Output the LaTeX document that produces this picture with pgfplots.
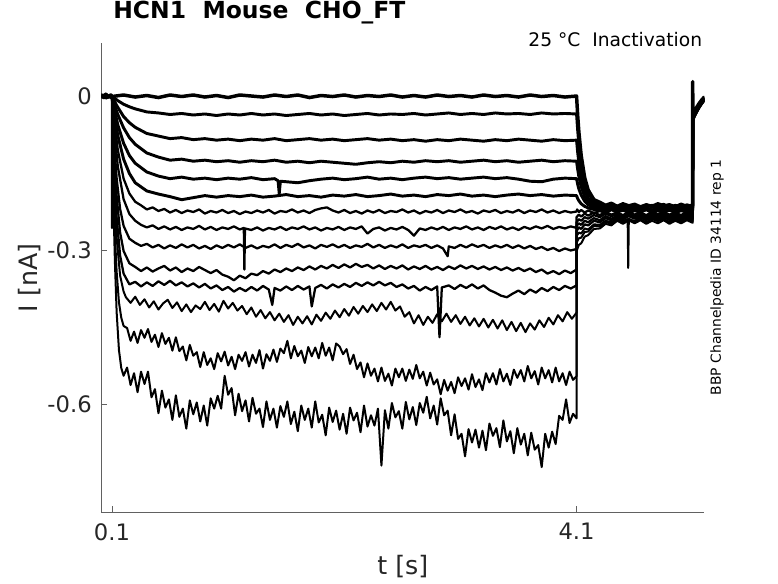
\documentclass[border=0pt]{standalone}
\usepackage{fontspec}
\setmainfont{DejaVu Sans}
\usepackage{pgfplots}
\pgfplotsset{compat=1.18}
\definecolor{axisgray}{rgb}{0.38,0.38,0.38}
\definecolor{txtgray}{rgb}{0.15,0.15,0.15}
\pgfplotsset{
  trA/.style={black, line width=2.2pt, line join=round, line cap=round},
  trB/.style={black, line width=1.7pt, line join=round, line cap=round},
  trC/.style={black, line width=1.5pt, line join=round, line cap=round},
}
\begin{document}
\begin{tikzpicture}
\path[use as bounding box] (-75.98pt,-53.03pt) rectangle (507.53pt,384.23pt);
\begin{axis}[
  at={(0pt,0pt)}, anchor=south west,
  scale only axis, width=452.25pt, height=351.75pt,
  xmin=0.008, xmax=5.2, ymin=-0.811, ymax=0.1027,
  axis lines*=left,
  axis line style={draw=axisgray, line width=0.6pt},
  tick align=inside,
  major tick length=4.5pt,
  tick style={draw=axisgray, line width=0.6pt},
  xtick={0.1,4.1}, xticklabels={0.1,4.1},
  ytick={-0.6,-0.3,0}, yticklabels={-0.6,-0.3,0},
  minor tick num=0,
  ticklabel style={font=\fontsize{17pt}{20pt}\selectfont, text=txtgray},
  xticklabel style={inner sep=0pt, yshift=-8pt},
  yticklabel style={inner sep=0pt, xshift=-7pt},
  xlabel={t [s]}, ylabel={I [nA]},
  label style={font=\fontsize{19pt}{22pt}\selectfont, text=txtgray},
  xlabel style={at={(axis description cs:0.5,-0.1166)}, anchor=center},
  ylabel style={at={(axis description cs:-0.1183,0.5)}, anchor=center},
  title={HCN1\ \ Mouse\ \ CHO\_FT},
  title style={at={(axis description cs:0.0195,1.0348)}, anchor=base west, inner sep=0pt, font=\fontsize{17.6pt}{20pt}\selectfont\bfseries, text=black},
]
% trace 1
\addplot[trA, line width=2.6pt] table[row sep=\\]{
t I\\
0.008 0.002\\ 0.03 -0.003\\ 0.05 0.003\\ 0.07 -0.002\\ 0.09 0.002\\ 0.1 -0.001\\
0.2 0.002\\ 0.3 -0.002\\ 0.4 0.001\\ 0.5 -0.003\\ 0.6 0.002\\ 0.7 -0.001\\ 0.8 0.002\\ 0.9 -0.002\\
1.0 0.001\\ 1.1 -0.003\\ 1.2 0.002\\ 1.3 0.000\\ 1.4 -0.002\\ 1.5 0.002\\ 1.6 -0.001\\ 1.7 0.002\\
1.8 -0.003\\ 1.9 0.001\\ 2.0 -0.001\\ 2.1 0.002\\ 2.2 -0.002\\ 2.3 0.001\\ 2.4 -0.001\\ 2.5 0.002\\
2.6 -0.002\\ 2.7 0.001\\ 2.8 -0.002\\ 2.9 0.002\\ 3.0 -0.001\\ 3.1 0.001\\ 3.2 -0.002\\ 3.3 0.002\\
3.4 -0.001\\ 3.5 0.001\\ 3.6 -0.002\\ 3.7 0.002\\ 3.8 -0.001\\ 3.9 0.001\\ 4.0 -0.002\\ 4.1 0.000\\
4.11 -0.038\\ 4.12 -0.070\\ 4.14 -0.116\\ 4.17 -0.159\\ 4.2 -0.183\\ 4.25 -0.202\\ 4.3 -0.207\\
4.35 -0.213\\ 4.4 -0.209\\ 4.45 -0.215\\ 4.5 -0.210\\ 4.55 -0.214\\ 4.6 -0.211\\ 4.65 -0.216\\
4.7 -0.212\\ 4.75 -0.215\\ 4.8 -0.210\\ 4.85 -0.214\\ 4.9 -0.212\\ 4.95 -0.216\\ 5.0 -0.211\\
5.05 -0.215\\ 5.1 -0.213\\ 5.1 0.028\\ 5.102 -0.036\\ 5.12 -0.028\\ 5.14 -0.020\\ 5.16 -0.013\\
5.18 -0.007\\ 5.2 -0.002\\
};
% trace 2
\addplot[trA] table[row sep=\\]{
t I\\
0.008 -0.003\\ 0.03 0.002\\ 0.05 -0.004\\ 0.07 0.001\\ 0.09 -0.003\\ 0.1 0\\
0.12 -0.004\\ 0.15 -0.009\\ 0.2 -0.016\\ 0.25 -0.021\\ 0.3 -0.025\\ 0.4 -0.031\\ 0.5 -0.033\\
0.6 -0.036\\ 0.7 -0.034\\ 0.8 -0.037\\ 0.9 -0.035\\ 1.0 -0.038\\ 1.1 -0.035\\ 1.2 -0.037\\
1.3 -0.034\\ 1.4 -0.037\\ 1.5 -0.035\\ 1.6 -0.038\\ 1.7 -0.036\\ 1.8 -0.034\\ 1.9 -0.037\\
2.0 -0.035\\ 2.1 -0.038\\ 2.2 -0.036\\ 2.3 -0.034\\ 2.4 -0.037\\ 2.5 -0.035\\ 2.6 -0.036\\
2.7 -0.034\\ 2.8 -0.037\\ 2.9 -0.035\\ 3.0 -0.033\\ 3.1 -0.036\\ 3.2 -0.034\\ 3.3 -0.036\\
3.4 -0.033\\ 3.5 -0.035\\ 3.6 -0.034\\ 3.7 -0.036\\ 3.8 -0.033\\ 3.9 -0.035\\ 4.0 -0.034\\
4.1 -0.035\\
4.11 -0.067\\ 4.12 -0.094\\ 4.14 -0.133\\ 4.17 -0.170\\ 4.2 -0.190\\ 4.25 -0.205\\ 4.3 -0.210\\
4.35 -0.216\\ 4.4 -0.211\\ 4.45 -0.217\\ 4.5 -0.212\\ 4.55 -0.216\\ 4.6 -0.213\\ 4.65 -0.218\\
4.7 -0.212\\ 4.75 -0.216\\ 4.8 -0.214\\ 4.85 -0.211\\ 4.9 -0.217\\ 4.95 -0.213\\ 5.0 -0.216\\
5.05 -0.212\\ 5.1 -0.215\\ 5.102 -0.038\\ 5.12 -0.030\\ 5.14 -0.022\\ 5.16 -0.015\\ 5.18 -0.009\\
5.2 -0.004\\
};
% trace 3
\addplot[trA] table[row sep=\\]{
t I\\
0.008 0.003\\ 0.025 -0.002\\ 0.045 0.004\\ 0.065 -0.003\\ 0.085 0.002\\ 0.1 0\\
0.12 -0.010\\ 0.15 -0.022\\ 0.2 -0.040\\ 0.25 -0.052\\ 0.3 -0.061\\ 0.4 -0.073\\ 0.5 -0.078\\
0.6 -0.083\\ 0.7 -0.081\\ 0.8 -0.085\\ 0.9 -0.083\\ 1.0 -0.086\\ 1.1 -0.084\\ 1.2 -0.087\\
1.3 -0.084\\ 1.4 -0.086\\ 1.5 -0.083\\ 1.6 -0.087\\ 1.7 -0.085\\ 1.8 -0.083\\ 1.9 -0.086\\
2.0 -0.084\\ 2.1 -0.087\\ 2.2 -0.085\\ 2.3 -0.083\\ 2.4 -0.086\\ 2.5 -0.084\\ 2.6 -0.087\\
2.7 -0.085\\ 2.8 -0.088\\ 2.9 -0.085\\ 3.0 -0.087\\ 3.1 -0.084\\ 3.2 -0.086\\ 3.3 -0.088\\
3.4 -0.085\\ 3.5 -0.087\\ 3.6 -0.084\\ 3.7 -0.086\\ 3.8 -0.088\\ 3.9 -0.085\\ 4.0 -0.087\\
4.1 -0.086\\
4.11 -0.110\\ 4.12 -0.129\\ 4.14 -0.158\\ 4.17 -0.184\\ 4.2 -0.199\\ 4.25 -0.209\\ 4.3 -0.213\\
4.35 -0.218\\ 4.4 -0.214\\ 4.45 -0.219\\ 4.5 -0.215\\ 4.55 -0.218\\ 4.6 -0.214\\ 4.65 -0.219\\
4.7 -0.216\\ 4.75 -0.213\\ 4.8 -0.218\\ 4.85 -0.215\\ 4.9 -0.219\\ 4.95 -0.214\\ 5.0 -0.217\\
5.05 -0.215\\ 5.1 -0.218\\ 5.102 -0.040\\ 5.12 -0.031\\ 5.14 -0.023\\ 5.16 -0.016\\ 5.18 -0.010\\
5.2 -0.005\\
};
% trace 4
\addplot[trA] table[row sep=\\]{
t I\\
0.1 0\\ 0.12 -0.017\\ 0.15 -0.036\\ 0.2 -0.062\\ 0.25 -0.081\\ 0.3 -0.094\\ 0.4 -0.111\\ 0.5 -0.119\\
0.6 -0.125\\ 0.7 -0.123\\ 0.8 -0.127\\ 0.9 -0.125\\ 1.0 -0.128\\ 1.1 -0.126\\ 1.2 -0.129\\
1.3 -0.126\\ 1.4 -0.128\\ 1.5 -0.125\\ 1.6 -0.129\\ 1.7 -0.127\\ 1.8 -0.130\\ 1.9 -0.127\\
2.0 -0.129\\ 2.1 -0.131\\ 2.2 -0.133\\ 2.3 -0.130\\ 2.4 -0.128\\ 2.5 -0.130\\ 2.6 -0.127\\
2.7 -0.129\\ 2.8 -0.126\\ 2.9 -0.128\\ 3.0 -0.126\\ 3.1 -0.129\\ 3.2 -0.127\\ 3.3 -0.125\\
3.4 -0.128\\ 3.5 -0.126\\ 3.6 -0.129\\ 3.7 -0.127\\ 3.8 -0.125\\ 3.9 -0.128\\ 4.0 -0.126\\
4.1 -0.127\\
4.11 -0.143\\ 4.12 -0.157\\ 4.14 -0.177\\ 4.17 -0.196\\ 4.2 -0.206\\ 4.25 -0.213\\ 4.3 -0.216\\
4.35 -0.220\\ 4.4 -0.216\\ 4.45 -0.221\\ 4.5 -0.217\\ 4.55 -0.220\\ 4.6 -0.216\\ 4.65 -0.221\\
4.7 -0.218\\ 4.75 -0.222\\ 4.8 -0.217\\ 4.85 -0.220\\ 4.9 -0.216\\ 4.95 -0.221\\ 5.0 -0.218\\
5.05 -0.220\\ 5.1 -0.217\\ 5.102 -0.041\\ 5.12 -0.032\\ 5.14 -0.024\\ 5.16 -0.017\\ 5.18 -0.011\\
5.2 -0.005\\
};
% trace 5
\addplot[trA] table[row sep=\\]{
t I\\
0.1 0\\ 0.12 -0.025\\ 0.15 -0.056\\ 0.2 -0.092\\ 0.25 -0.116\\ 0.3 -0.131\\ 0.4 -0.148\\ 0.5 -0.156\\
0.6 -0.161\\ 0.7 -0.158\\ 0.8 -0.162\\ 0.9 -0.160\\ 1.0 -0.163\\ 1.1 -0.160\\ 1.2 -0.162\\
1.3 -0.159\\ 1.4 -0.163\\ 1.5 -0.161\\ 1.53 -0.165\\ 1.54 -0.190\\ 1.55 -0.166\\ 1.6 -0.167\\
1.7 -0.169\\ 1.8 -0.165\\ 1.9 -0.162\\ 2.0 -0.160\\ 2.1 -0.163\\ 2.2 -0.161\\ 2.3 -0.158\\
2.4 -0.162\\ 2.5 -0.160\\ 2.6 -0.163\\ 2.7 -0.160\\ 2.8 -0.158\\ 2.9 -0.161\\ 3.0 -0.159\\
3.1 -0.162\\ 3.2 -0.160\\ 3.3 -0.158\\ 3.4 -0.161\\ 3.5 -0.159\\ 3.6 -0.162\\ 3.7 -0.166\\
3.8 -0.167\\ 3.9 -0.162\\ 4.0 -0.160\\ 4.1 -0.161\\
4.11 -0.172\\ 4.12 -0.181\\ 4.14 -0.193\\ 4.17 -0.205\\ 4.2 -0.212\\ 4.25 -0.217\\ 4.3 -0.219\\
4.35 -0.223\\ 4.4 -0.218\\ 4.45 -0.222\\ 4.5 -0.219\\ 4.55 -0.224\\ 4.6 -0.220\\ 4.65 -0.223\\
4.7 -0.218\\ 4.75 -0.222\\ 4.8 -0.220\\ 4.85 -0.224\\ 4.9 -0.219\\ 4.95 -0.222\\ 5.0 -0.220\\
5.05 -0.223\\ 5.1 -0.221\\ 5.102 -0.041\\ 5.12 -0.033\\ 5.14 -0.025\\ 5.16 -0.018\\ 5.18 -0.011\\
5.2 -0.006\\
};
% trace 6
\addplot[trA] table[row sep=\\]{
t I\\
0.1 0\\ 0.12 -0.035\\ 0.15 -0.077\\ 0.2 -0.123\\ 0.25 -0.151\\ 0.3 -0.169\\ 0.4 -0.185\\ 0.5 -0.191\\
0.6 -0.196\\ 0.7 -0.202\\ 0.8 -0.198\\ 0.9 -0.194\\ 1.0 -0.197\\ 1.1 -0.194\\ 1.2 -0.196\\
1.3 -0.193\\ 1.4 -0.197\\ 1.5 -0.195\\ 1.6 -0.192\\ 1.7 -0.196\\ 1.8 -0.194\\ 1.9 -0.197\\
2.0 -0.193\\ 2.1 -0.195\\ 2.2 -0.192\\ 2.3 -0.196\\ 2.4 -0.194\\ 2.5 -0.191\\ 2.6 -0.195\\
2.7 -0.193\\ 2.8 -0.196\\ 2.9 -0.192\\ 3.0 -0.194\\ 3.1 -0.191\\ 3.2 -0.195\\ 3.3 -0.193\\
3.4 -0.196\\ 3.5 -0.193\\ 3.6 -0.191\\ 3.7 -0.194\\ 3.8 -0.192\\ 3.9 -0.195\\ 4.0 -0.193\\
4.1 -0.194\\
4.11 -0.200\\ 4.12 -0.204\\ 4.14 -0.210\\ 4.17 -0.215\\ 4.2 -0.218\\ 4.25 -0.221\\ 4.3 -0.222\\
4.35 -0.226\\ 4.4 -0.221\\ 4.45 -0.225\\ 4.5 -0.220\\ 4.55 -0.224\\ 4.6 -0.222\\ 4.65 -0.226\\
4.7 -0.221\\ 4.75 -0.224\\ 4.8 -0.222\\ 4.85 -0.226\\ 4.9 -0.221\\ 4.95 -0.224\\ 5.0 -0.222\\
5.05 -0.225\\ 5.1 -0.223\\ 5.102 -0.042\\ 5.12 -0.034\\ 5.14 -0.026\\ 5.16 -0.018\\ 5.18 -0.012\\
5.2 -0.006\\
};
% trace 7
\addplot[trB] table[row sep=\\]{
t I\\
0.1 0\\ 0.1005 -0.257\\ 0.101 -0.005\\ 0.12 -0.050\\ 0.15 -0.105\\ 0.2 -0.161\\ 0.25 -0.190\\
0.3 -0.206\\ 0.35 -0.213\\ 0.4 -0.221\\ 0.45 -0.217\\ 0.5 -0.224\\ 0.55 -0.220\\ 0.6 -0.227\\
0.65 -0.222\\ 0.7 -0.228\\ 0.75 -0.223\\ 0.8 -0.226\\ 0.85 -0.221\\ 0.9 -0.229\\ 0.95 -0.224\\
1.0 -0.227\\ 1.05 -0.222\\ 1.1 -0.228\\ 1.15 -0.224\\ 1.2 -0.230\\ 1.25 -0.225\\ 1.3 -0.228\\
1.35 -0.223\\ 1.4 -0.227\\ 1.45 -0.222\\ 1.5 -0.229\\ 1.55 -0.224\\ 1.6 -0.226\\ 1.65 -0.221\\
1.7 -0.227\\ 1.75 -0.223\\ 1.8 -0.228\\ 1.85 -0.222\\ 1.9 -0.219\\ 1.95 -0.217\\ 2.0 -0.223\\
2.05 -0.227\\ 2.1 -0.222\\ 2.15 -0.228\\ 2.2 -0.224\\ 2.25 -0.229\\ 2.3 -0.223\\ 2.35 -0.227\\
2.4 -0.222\\ 2.45 -0.228\\ 2.5 -0.224\\ 2.55 -0.226\\ 2.6 -0.221\\ 2.65 -0.227\\ 2.7 -0.223\\
2.75 -0.229\\ 2.8 -0.224\\ 2.85 -0.227\\ 2.9 -0.222\\ 2.95 -0.228\\ 3.0 -0.223\\ 3.05 -0.226\\
3.1 -0.221\\ 3.15 -0.227\\ 3.2 -0.224\\ 3.25 -0.229\\ 3.3 -0.223\\ 3.35 -0.226\\ 3.4 -0.222\\
3.45 -0.228\\ 3.5 -0.224\\ 3.55 -0.227\\ 3.6 -0.222\\ 3.65 -0.228\\ 3.7 -0.223\\ 3.75 -0.226\\
3.8 -0.221\\ 3.85 -0.227\\ 3.9 -0.223\\ 3.95 -0.228\\ 4.0 -0.224\\ 4.05 -0.227\\ 4.1 -0.225\\
4.105 -0.221\\ 4.12 -0.226\\ 4.14 -0.222\\ 4.17 -0.227\\ 4.2 -0.223\\ 4.25 -0.228\\ 4.3 -0.224\\
4.35 -0.228\\ 4.4 -0.222\\ 4.45 -0.227\\ 4.5 -0.223\\ 4.55 -0.228\\ 4.6 -0.224\\ 4.65 -0.227\\
4.7 -0.222\\ 4.75 -0.228\\ 4.8 -0.224\\ 4.85 -0.227\\ 4.9 -0.223\\ 4.95 -0.228\\ 5.0 -0.224\\
5.05 -0.227\\ 5.1 -0.225\\ 5.102 -0.043\\ 5.12 -0.035\\ 5.14 -0.026\\ 5.16 -0.019\\ 5.18 -0.012\\
5.2 -0.007\\
};
% trace 8
\addplot[trB] table[row sep=\\]{
t I\\
0.1 0\\ 0.12 -0.067\\ 0.15 -0.137\\ 0.2 -0.201\\ 0.25 -0.230\\ 0.3 -0.243\\ 0.35 -0.251\\
0.4 -0.256\\ 0.45 -0.252\\ 0.5 -0.259\\ 0.55 -0.254\\ 0.6 -0.260\\ 0.65 -0.255\\ 0.7 -0.261\\
0.75 -0.256\\ 0.8 -0.259\\ 0.85 -0.253\\ 0.9 -0.260\\ 0.95 -0.255\\ 1.0 -0.261\\ 1.05 -0.256\\
1.1 -0.259\\ 1.15 -0.254\\ 1.2 -0.260\\ 1.235 -0.257\\ 1.24 -0.338\\ 1.245 -0.258\\ 1.3 -0.261\\
1.35 -0.256\\ 1.4 -0.262\\ 1.45 -0.257\\ 1.5 -0.260\\ 1.55 -0.255\\ 1.6 -0.261\\ 1.65 -0.256\\
1.7 -0.259\\ 1.75 -0.254\\ 1.8 -0.260\\ 1.85 -0.256\\ 1.9 -0.262\\ 1.95 -0.257\\ 2.0 -0.260\\
2.05 -0.255\\ 2.1 -0.261\\ 2.15 -0.256\\ 2.2 -0.259\\ 2.25 -0.254\\ 2.3 -0.268\\ 2.35 -0.259\\
2.4 -0.256\\ 2.45 -0.262\\ 2.5 -0.257\\ 2.55 -0.260\\ 2.6 -0.255\\ 2.65 -0.261\\ 2.7 -0.272\\
2.75 -0.258\\ 2.8 -0.261\\ 2.85 -0.256\\ 2.9 -0.260\\ 2.95 -0.255\\ 3.0 -0.261\\ 3.05 -0.256\\
3.1 -0.259\\ 3.15 -0.254\\ 3.2 -0.260\\ 3.25 -0.256\\ 3.3 -0.261\\ 3.35 -0.255\\ 3.4 -0.259\\
3.45 -0.254\\ 3.5 -0.260\\ 3.55 -0.256\\ 3.6 -0.261\\ 3.65 -0.255\\ 3.7 -0.259\\ 3.75 -0.254\\
3.8 -0.258\\ 3.85 -0.253\\ 3.9 -0.259\\ 3.95 -0.255\\ 4.0 -0.258\\ 4.05 -0.254\\ 4.1 -0.257\\
4.1 -0.236\\ 4.12 -0.231\\ 4.14 -0.235\\ 4.17 -0.229\\ 4.2 -0.233\\ 4.25 -0.227\\ 4.3 -0.232\\
4.35 -0.226\\ 4.4 -0.231\\ 4.45 -0.227\\ 4.5 -0.232\\ 4.55 -0.226\\ 4.6 -0.231\\ 4.65 -0.227\\
4.7 -0.232\\ 4.75 -0.226\\ 4.8 -0.230\\ 4.85 -0.226\\ 4.9 -0.231\\ 4.95 -0.227\\ 5.0 -0.232\\
5.05 -0.226\\ 5.1 -0.229\\ 5.102 -0.043\\ 5.12 -0.035\\ 5.14 -0.027\\ 5.16 -0.019\\ 5.18 -0.013\\
5.2 -0.007\\
};
% trace 9
\addplot[trB] table[row sep=\\]{
t I\\
0.1 0\\ 0.11 -0.053\\ 0.12 -0.097\\ 0.14 -0.160\\ 0.17 -0.220\\ 0.2 -0.253\\ 0.25 -0.278\\
0.3 -0.286\\ 0.35 -0.292\\ 0.4 -0.288\\ 0.45 -0.295\\ 0.5 -0.290\\ 0.55 -0.297\\ 0.6 -0.291\\
0.65 -0.296\\ 0.7 -0.289\\ 0.75 -0.295\\ 0.8 -0.290\\ 0.85 -0.297\\ 0.9 -0.292\\ 0.95 -0.298\\
1.0 -0.291\\ 1.05 -0.296\\ 1.1 -0.290\\ 1.15 -0.295\\ 1.2 -0.289\\ 1.25 -0.296\\ 1.3 -0.291\\
1.35 -0.297\\ 1.4 -0.292\\ 1.45 -0.295\\ 1.5 -0.289\\ 1.55 -0.296\\ 1.6 -0.290\\ 1.65 -0.294\\
1.7 -0.288\\ 1.75 -0.295\\ 1.8 -0.291\\ 1.85 -0.297\\ 1.9 -0.290\\ 1.95 -0.294\\ 2.0 -0.289\\
2.05 -0.295\\ 2.1 -0.290\\ 2.15 -0.296\\ 2.2 -0.291\\ 2.25 -0.294\\ 2.3 -0.288\\ 2.35 -0.295\\
2.4 -0.290\\ 2.45 -0.296\\ 2.5 -0.291\\ 2.55 -0.295\\ 2.6 -0.289\\ 2.65 -0.296\\ 2.7 -0.291\\
2.75 -0.294\\ 2.8 -0.290\\ 2.85 -0.296\\ 2.9 -0.291\\ 2.95 -0.297\\ 2.99 -0.312\\ 3.0 -0.293\\
3.05 -0.296\\ 3.1 -0.290\\ 3.15 -0.295\\ 3.2 -0.289\\ 3.25 -0.294\\ 3.3 -0.290\\ 3.35 -0.296\\
3.4 -0.291\\ 3.45 -0.295\\ 3.5 -0.290\\ 3.55 -0.296\\ 3.6 -0.291\\ 3.65 -0.297\\ 3.7 -0.292\\
3.75 -0.298\\ 3.8 -0.294\\ 3.85 -0.300\\ 3.9 -0.296\\ 3.95 -0.302\\ 4.0 -0.297\\ 4.05 -0.301\\
4.1 -0.298\\
4.1 -0.246\\ 4.12 -0.240\\ 4.14 -0.243\\ 4.17 -0.236\\ 4.2 -0.239\\ 4.25 -0.232\\ 4.3 -0.236\\
4.35 -0.229\\ 4.4 -0.234\\ 4.45 -0.230\\ 4.5 -0.235\\ 4.55 -0.229\\ 4.6 -0.234\\ 4.65 -0.230\\
4.7 -0.235\\ 4.75 -0.229\\ 4.8 -0.233\\ 4.85 -0.228\\ 4.9 -0.234\\ 4.95 -0.230\\ 5.0 -0.235\\
5.05 -0.229\\ 5.1 -0.232\\ 5.102 -0.044\\ 5.12 -0.036\\ 5.14 -0.027\\ 5.16 -0.020\\ 5.18 -0.013\\
5.2 -0.007\\
};
% trace 10
\addplot[trB] table[row sep=\\]{
t I\\
0.1 0\\ 0.11 -0.067\\ 0.12 -0.120\\ 0.14 -0.195\\ 0.17 -0.266\\ 0.2 -0.302\\ 0.25 -0.326\\
0.3 -0.333\\ 0.35 -0.341\\ 0.4 -0.334\\ 0.45 -0.342\\ 0.5 -0.336\\ 0.55 -0.331\\ 0.6 -0.340\\
0.65 -0.334\\ 0.7 -0.343\\ 0.75 -0.336\\ 0.8 -0.341\\ 0.85 -0.333\\ 0.9 -0.339\\ 0.95 -0.345\\
1.0 -0.339\\ 1.05 -0.348\\ 1.1 -0.352\\ 1.15 -0.359\\ 1.2 -0.350\\ 1.25 -0.355\\ 1.3 -0.346\\
1.35 -0.349\\ 1.4 -0.341\\ 1.45 -0.346\\ 1.5 -0.338\\ 1.55 -0.343\\ 1.6 -0.336\\ 1.65 -0.341\\
1.7 -0.334\\ 1.75 -0.339\\ 1.8 -0.332\\ 1.85 -0.338\\ 1.9 -0.331\\ 1.95 -0.336\\ 2.0 -0.329\\
2.05 -0.335\\ 2.1 -0.328\\ 2.15 -0.334\\ 2.2 -0.327\\ 2.25 -0.333\\ 2.3 -0.329\\ 2.35 -0.336\\
2.4 -0.330\\ 2.45 -0.337\\ 2.5 -0.331\\ 2.55 -0.336\\ 2.6 -0.330\\ 2.65 -0.338\\ 2.7 -0.332\\
2.75 -0.337\\ 2.8 -0.331\\ 2.85 -0.338\\ 2.9 -0.333\\ 2.95 -0.339\\ 3.0 -0.332\\ 3.05 -0.337\\
3.1 -0.330\\ 3.15 -0.336\\ 3.2 -0.331\\ 3.25 -0.337\\ 3.3 -0.332\\ 3.35 -0.338\\ 3.4 -0.333\\
3.45 -0.339\\ 3.5 -0.334\\ 3.55 -0.340\\ 3.6 -0.335\\ 3.65 -0.341\\ 3.7 -0.336\\ 3.75 -0.343\\
3.8 -0.338\\ 3.85 -0.346\\ 3.9 -0.341\\ 3.95 -0.347\\ 4.0 -0.340\\ 4.05 -0.345\\ 4.1 -0.338\\
4.1 -0.253\\ 4.12 -0.248\\ 4.14 -0.251\\ 4.17 -0.243\\ 4.2 -0.246\\ 4.25 -0.238\\ 4.3 -0.242\\
4.35 -0.234\\ 4.4 -0.239\\ 4.45 -0.233\\ 4.5 -0.238\\ 4.55 -0.232\\ 4.6 -0.237\\ 4.65 -0.231\\
4.7 -0.237\\ 4.75 -0.232\\ 4.8 -0.236\\ 4.85 -0.231\\ 4.9 -0.237\\ 4.95 -0.232\\ 5.0 -0.236\\
5.05 -0.231\\ 5.1 -0.235\\ 5.102 -0.045\\ 5.12 -0.036\\ 5.14 -0.028\\ 5.16 -0.020\\ 5.18 -0.013\\
5.2 -0.008\\
};
% trace 11
\addplot[trB] table[row sep=\\]{
t I\\
0.1 0\\ 0.11 -0.083\\ 0.12 -0.147\\ 0.14 -0.237\\ 0.17 -0.311\\ 0.2 -0.346\\ 0.25 -0.367\\
0.3 -0.362\\ 0.35 -0.371\\ 0.4 -0.363\\ 0.45 -0.370\\ 0.5 -0.361\\ 0.55 -0.368\\ 0.6 -0.360\\
0.65 -0.369\\ 0.7 -0.363\\ 0.75 -0.371\\ 0.8 -0.365\\ 0.85 -0.373\\ 0.9 -0.366\\ 0.95 -0.375\\
1.0 -0.369\\ 1.05 -0.378\\ 1.1 -0.372\\ 1.15 -0.381\\ 1.2 -0.374\\ 1.25 -0.380\\ 1.3 -0.372\\
1.35 -0.379\\ 1.4 -0.370\\ 1.45 -0.377\\ 1.48 -0.407\\ 1.5 -0.374\\ 1.55 -0.379\\ 1.6 -0.371\\
1.65 -0.378\\ 1.7 -0.370\\ 1.75 -0.377\\ 1.8 -0.371\\ 1.82 -0.410\\ 1.85 -0.374\\ 1.9 -0.368\\
1.95 -0.375\\ 2.0 -0.367\\ 2.05 -0.373\\ 2.1 -0.366\\ 2.15 -0.372\\ 2.2 -0.364\\ 2.25 -0.370\\
2.3 -0.363\\ 2.35 -0.369\\ 2.4 -0.362\\ 2.45 -0.369\\ 2.5 -0.364\\ 2.55 -0.372\\ 2.6 -0.367\\
2.65 -0.375\\ 2.7 -0.370\\ 2.75 -0.379\\ 2.8 -0.372\\ 2.85 -0.378\\ 2.9 -0.371\\ 2.92 -0.470\\
2.94 -0.373\\ 3.0 -0.369\\ 3.05 -0.376\\ 3.1 -0.368\\ 3.15 -0.374\\ 3.2 -0.367\\ 3.25 -0.375\\
3.3 -0.369\\ 3.35 -0.378\\ 3.4 -0.383\\ 3.45 -0.389\\ 3.5 -0.392\\ 3.55 -0.385\\ 3.6 -0.379\\
3.65 -0.386\\ 3.7 -0.377\\ 3.75 -0.383\\ 3.8 -0.374\\ 3.85 -0.380\\ 3.9 -0.372\\ 3.95 -0.378\\
4.0 -0.370\\ 4.05 -0.375\\ 4.1 -0.369\\
4.1 -0.263\\ 4.12 -0.256\\ 4.14 -0.259\\ 4.17 -0.250\\ 4.2 -0.252\\ 4.25 -0.243\\ 4.3 -0.246\\
4.35 -0.238\\ 4.4 -0.242\\ 4.45 -0.235\\ 4.5 -0.240\\ 4.55 -0.234\\ 4.6 -0.239\\ 4.65 -0.233\\
4.7 -0.239\\ 4.75 -0.234\\ 4.8 -0.238\\ 4.85 -0.233\\ 4.9 -0.239\\ 4.95 -0.235\\ 5.0 -0.239\\
5.05 -0.234\\ 5.1 -0.238\\ 5.102 -0.046\\ 5.12 -0.037\\ 5.14 -0.028\\ 5.16 -0.021\\ 5.18 -0.014\\
5.2 -0.008\\
};
% trace 12
\addplot[trC] table[row sep=\\]{
t I\\
0.1 0\\ 0.11 -0.101\\ 0.12 -0.177\\ 0.14 -0.276\\ 0.17 -0.350\\ 0.2 -0.381\\ 0.22 -0.392\\
0.26 -0.403\\ 0.30 -0.391\\ 0.34 -0.407\\ 0.38 -0.396\\ 0.42 -0.412\\ 0.46 -0.400\\ 0.50 -0.416\\
0.54 -0.404\\ 0.58 -0.397\\ 0.62 -0.413\\ 0.66 -0.402\\ 0.70 -0.419\\ 0.74 -0.406\\ 0.78 -0.421\\
0.82 -0.408\\ 0.86 -0.415\\ 0.90 -0.401\\ 0.94 -0.417\\ 0.98 -0.405\\ 1.02 -0.420\\ 1.06 -0.399\\
1.10 -0.414\\ 1.14 -0.403\\ 1.18 -0.418\\ 1.22 -0.409\\ 1.26 -0.425\\ 1.30 -0.412\\ 1.34 -0.430\\
1.38 -0.417\\ 1.42 -0.433\\ 1.46 -0.421\\ 1.50 -0.437\\ 1.54 -0.424\\ 1.58 -0.440\\ 1.62 -0.427\\
1.66 -0.446\\ 1.70 -0.430\\ 1.74 -0.443\\ 1.78 -0.429\\ 1.82 -0.445\\ 1.86 -0.426\\ 1.90 -0.438\\
1.94 -0.422\\ 1.98 -0.434\\ 2.02 -0.418\\ 2.06 -0.431\\ 2.10 -0.415\\ 2.14 -0.428\\ 2.18 -0.411\\
2.22 -0.424\\ 2.26 -0.409\\ 2.30 -0.421\\ 2.34 -0.406\\ 2.38 -0.419\\ 2.42 -0.403\\ 2.46 -0.416\\
2.50 -0.401\\ 2.54 -0.418\\ 2.58 -0.410\\ 2.62 -0.430\\ 2.66 -0.421\\ 2.70 -0.443\\ 2.74 -0.427\\
2.78 -0.446\\ 2.82 -0.430\\ 2.86 -0.442\\ 2.90 -0.425\\ 2.94 -0.439\\ 2.98 -0.424\\ 3.02 -0.440\\
3.06 -0.427\\ 3.10 -0.444\\ 3.14 -0.430\\ 3.18 -0.447\\ 3.22 -0.433\\ 3.26 -0.449\\ 3.30 -0.434\\
3.34 -0.451\\ 3.38 -0.436\\ 3.42 -0.453\\ 3.46 -0.437\\ 3.50 -0.456\\ 3.54 -0.440\\ 3.58 -0.458\\
3.62 -0.442\\ 3.66 -0.460\\ 3.70 -0.443\\ 3.74 -0.455\\ 3.78 -0.437\\ 3.82 -0.450\\ 3.86 -0.432\\
3.90 -0.445\\ 3.94 -0.427\\ 3.98 -0.439\\ 4.02 -0.421\\ 4.06 -0.434\\ 4.10 -0.422\\
4.1 -0.273\\ 4.12 -0.266\\ 4.14 -0.268\\ 4.17 -0.258\\ 4.2 -0.260\\ 4.25 -0.250\\ 4.3 -0.251\\
4.35 -0.243\\ 4.4 -0.246\\ 4.45 -0.238\\ 4.5 -0.243\\ 4.54 -0.240\\ 4.545 -0.335\\ 4.55 -0.241\\
4.6 -0.243\\ 4.65 -0.237\\ 4.7 -0.242\\ 4.75 -0.236\\ 4.8 -0.241\\ 4.85 -0.236\\ 4.9 -0.242\\
4.95 -0.237\\ 5.0 -0.242\\ 5.05 -0.237\\ 5.1 -0.241\\ 5.102 -0.047\\ 5.12 -0.038\\ 5.14 -0.029\\
5.16 -0.021\\ 5.18 -0.014\\ 5.2 -0.009\\
};
% trace 13
\addplot[trC] table[row sep=\\]{
t I\\
0.1 0\\ 0.105 -0.072\\ 0.11 -0.132\\ 0.12 -0.226\\ 0.13 -0.294\\ 0.14 -0.342\\ 0.16 -0.402\\
0.18 -0.432\\ 0.20 -0.448\\ 0.23 -0.452\\ 0.26 -0.477\\ 0.29 -0.459\\ 0.32 -0.481\\ 0.35 -0.456\\
0.38 -0.471\\ 0.41 -0.454\\ 0.44 -0.479\\ 0.47 -0.465\\ 0.50 -0.489\\ 0.53 -0.462\\ 0.56 -0.483\\
0.59 -0.471\\ 0.62 -0.496\\ 0.65 -0.470\\ 0.68 -0.497\\ 0.71 -0.488\\ 0.74 -0.515\\ 0.77 -0.485\\
0.80 -0.506\\ 0.83 -0.499\\ 0.86 -0.528\\ 0.89 -0.499\\ 0.92 -0.524\\ 0.95 -0.511\\ 0.98 -0.532\\
1.01 -0.501\\ 1.04 -0.517\\ 1.07 -0.498\\ 1.10 -0.525\\ 1.13 -0.508\\ 1.16 -0.532\\ 1.19 -0.504\\
1.22 -0.516\\ 1.25 -0.499\\ 1.28 -0.527\\ 1.31 -0.504\\ 1.34 -0.520\\ 1.37 -0.495\\ 1.40 -0.531\\
1.43 -0.503\\ 1.46 -0.516\\ 1.49 -0.494\\ 1.52 -0.518\\ 1.55 -0.492\\ 1.58 -0.501\\ 1.61 -0.477\\
1.64 -0.511\\ 1.67 -0.487\\ 1.70 -0.507\\ 1.73 -0.496\\ 1.76 -0.520\\ 1.79 -0.489\\ 1.82 -0.507\\
1.85 -0.490\\ 1.88 -0.511\\ 1.91 -0.481\\ 1.94 -0.506\\ 1.97 -0.490\\ 2.00 -0.515\\ 2.03 -0.482\\
2.06 -0.488\\ 2.09 -0.503\\ 2.12 -0.493\\ 2.15 -0.522\\ 2.18 -0.504\\ 2.21 -0.532\\ 2.24 -0.519\\
2.27 -0.548\\ 2.30 -0.521\\ 2.33 -0.545\\ 2.36 -0.531\\ 2.39 -0.556\\ 2.42 -0.529\\ 2.45 -0.555\\
2.48 -0.541\\ 2.51 -0.564\\ 2.54 -0.531\\ 2.57 -0.548\\ 2.60 -0.531\\ 2.63 -0.555\\ 2.66 -0.533\\
2.69 -0.551\\ 2.72 -0.524\\ 2.75 -0.550\\ 2.78 -0.537\\ 2.81 -0.564\\ 2.84 -0.539\\ 2.87 -0.562\\
2.90 -0.552\\ 2.93 -0.581\\ 2.96 -0.553\\ 2.99 -0.574\\ 3.02 -0.557\\ 3.05 -0.579\\ 3.08 -0.548\\
3.11 -0.565\\ 3.14 -0.550\\ 3.17 -0.572\\ 3.20 -0.542\\ 3.23 -0.567\\ 3.26 -0.552\\ 3.29 -0.573\\
3.32 -0.540\\ 3.35 -0.558\\ 3.38 -0.540\\ 3.41 -0.562\\ 3.44 -0.532\\ 3.47 -0.556\\ 3.50 -0.541\\
3.53 -0.563\\ 3.56 -0.533\\ 3.59 -0.549\\ 3.62 -0.534\\ 3.65 -0.556\\ 3.68 -0.526\\ 3.71 -0.550\\
3.74 -0.536\\ 3.77 -0.562\\ 3.80 -0.529\\ 3.83 -0.550\\ 3.86 -0.534\\ 3.89 -0.558\\ 3.92 -0.529\\
3.95 -0.556\\ 3.98 -0.540\\ 4.01 -0.563\\ 4.04 -0.537\\ 4.07 -0.553\\ 4.10 -0.546\\
4.1 -0.286\\ 4.12 -0.277\\ 4.14 -0.276\\ 4.17 -0.265\\ 4.2 -0.264\\ 4.25 -0.253\\ 4.3 -0.254\\
4.35 -0.245\\ 4.4 -0.249\\ 4.45 -0.240\\ 4.5 -0.246\\ 4.55 -0.239\\ 4.6 -0.245\\ 4.65 -0.240\\
4.7 -0.246\\ 4.75 -0.239\\ 4.8 -0.244\\ 4.85 -0.239\\ 4.9 -0.246\\ 4.95 -0.240\\ 5.0 -0.245\\
5.05 -0.240\\ 5.1 -0.244\\ 5.102 -0.048\\ 5.12 -0.038\\ 5.14 -0.030\\ 5.16 -0.022\\ 5.18 -0.015\\
5.2 -0.009\\
};
% trace 14
\addplot[trC] table[row sep=\\]{
t I\\
0.1 0\\ 0.104 -0.073\\ 0.108 -0.137\\ 0.115 -0.233\\ 0.125 -0.322\\ 0.14 -0.421\\ 0.16 -0.495\\
0.18 -0.530\\ 0.20 -0.545\\ 0.23 -0.529\\ 0.26 -0.563\\ 0.29 -0.540\\ 0.32 -0.577\\ 0.35 -0.537\\
0.38 -0.561\\ 0.41 -0.537\\ 0.44 -0.587\\ 0.47 -0.571\\ 0.50 -0.618\\ 0.53 -0.574\\ 0.56 -0.607\\
0.59 -0.591\\ 0.62 -0.631\\ 0.65 -0.583\\ 0.68 -0.625\\ 0.71 -0.609\\ 0.74 -0.648\\ 0.77 -0.593\\
0.80 -0.620\\ 0.83 -0.597\\ 0.86 -0.634\\ 0.89 -0.603\\ 0.92 -0.642\\ 0.95 -0.589\\ 0.98 -0.609\\
1.01 -0.584\\ 1.04 -0.609\\ 1.07 -0.545\\ 1.10 -0.582\\ 1.13 -0.569\\ 1.16 -0.622\\ 1.19 -0.580\\
1.22 -0.614\\ 1.25 -0.593\\ 1.28 -0.634\\ 1.31 -0.588\\ 1.34 -0.619\\ 1.37 -0.609\\ 1.40 -0.645\\
1.43 -0.595\\ 1.46 -0.631\\ 1.49 -0.609\\ 1.52 -0.646\\ 1.55 -0.604\\ 1.58 -0.625\\ 1.61 -0.595\\
1.64 -0.639\\ 1.67 -0.615\\ 1.70 -0.653\\ 1.73 -0.603\\ 1.76 -0.631\\ 1.79 -0.609\\ 1.82 -0.646\\
1.85 -0.595\\ 1.88 -0.636\\ 1.91 -0.621\\ 1.94 -0.661\\ 1.97 -0.607\\ 2.00 -0.635\\ 2.03 -0.613\\
2.06 -0.650\\ 2.09 -0.619\\ 2.12 -0.658\\ 2.15 -0.607\\ 2.18 -0.632\\ 2.21 -0.617\\ 2.24 -0.655\\
2.27 -0.603\\ 2.30 -0.644\\ 2.33 -0.622\\ 2.36 -0.642\\ 2.39 -0.609\\ 2.42 -0.720\\ 2.45 -0.612\\
2.48 -0.648\\ 2.51 -0.598\\ 2.54 -0.626\\ 2.57 -0.614\\ 2.60 -0.648\\ 2.63 -0.596\\ 2.66 -0.630\\
2.69 -0.606\\ 2.72 -0.641\\ 2.75 -0.598\\ 2.78 -0.617\\ 2.81 -0.586\\ 2.84 -0.628\\ 2.87 -0.603\\
2.90 -0.640\\ 2.93 -0.589\\ 2.96 -0.622\\ 2.99 -0.613\\ 3.02 -0.661\\ 3.05 -0.620\\ 3.08 -0.668\\
3.11 -0.658\\ 3.14 -0.702\\ 3.17 -0.649\\ 3.20 -0.675\\ 3.23 -0.650\\ 3.26 -0.685\\ 3.29 -0.652\\
3.32 -0.690\\ 3.35 -0.638\\ 3.38 -0.662\\ 3.41 -0.647\\ 3.44 -0.684\\ 3.47 -0.632\\ 3.50 -0.673\\
3.53 -0.653\\ 3.56 -0.696\\ 3.59 -0.647\\ 3.62 -0.679\\ 3.65 -0.658\\ 3.68 -0.700\\ 3.71 -0.656\\
3.74 -0.689\\ 3.77 -0.680\\ 3.80 -0.723\\ 3.83 -0.658\\ 3.86 -0.685\\ 3.89 -0.654\\ 3.92 -0.678\\
3.95 -0.623\\ 3.98 -0.631\\ 4.01 -0.591\\ 4.04 -0.637\\ 4.07 -0.619\\ 4.10 -0.628\\
4.1 -0.302\\ 4.12 -0.290\\ 4.14 -0.287\\ 4.17 -0.274\\ 4.2 -0.271\\ 4.25 -0.259\\ 4.3 -0.258\\
4.35 -0.249\\ 4.4 -0.252\\ 4.45 -0.243\\ 4.5 -0.249\\ 4.55 -0.242\\ 4.6 -0.248\\ 4.65 -0.242\\
4.7 -0.249\\ 4.75 -0.243\\ 4.8 -0.248\\ 4.85 -0.242\\ 4.9 -0.249\\ 4.95 -0.243\\ 5.0 -0.248\\
5.05 -0.242\\ 5.1 -0.247\\ 5.102 -0.049\\ 5.12 -0.039\\ 5.14 -0.030\\ 5.16 -0.022\\ 5.18 -0.015\\
5.2 -0.010\\
};
\end{axis}
\node[anchor=base east, inner sep=0pt, font=\fontsize{14pt}{17pt}\selectfont] at (450.8pt,349.2pt) {25 °C\ \ Inactivation};
\node[rotate=90, anchor=center, inner sep=0pt, font=\fontsize{10.4pt}{12pt}\selectfont] at (461.8pt,176.1pt) {BBP Channelpedia ID 34114 rep 1};
\end{tikzpicture}
\end{document}
